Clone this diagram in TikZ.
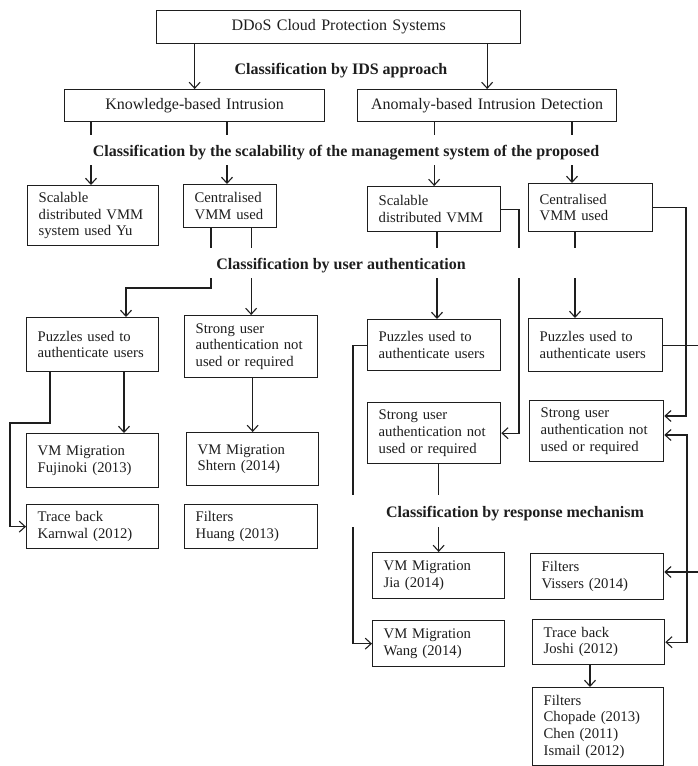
\documentclass[tikz,border=0pt]{standalone}
\usepackage{fontspec}
\setmainfont{Liberation Serif}
\usetikzlibrary{arrows.meta}
\definecolor{ink}{HTML}{1E1E1E}
\tikzset{
 box/.style={draw=ink, line width=1.3pt, rectangle, inner xsep=11pt, inner ysep=0pt, align=left, font=\fontsize{14.7}{16.6}\selectfont, text=ink},
 bigbox/.style={draw=ink, line width=1.3pt, rectangle, inner xsep=11pt, inner ysep=0pt, align=center, font=\fontsize{16}{18}\selectfont, text=ink},
 head/.style={font=\fontsize{16}{18}\selectfont\bfseries, text=ink, inner sep=0pt, anchor=base},
 con/.style={draw=ink, line width=1.1pt},
 arr/.style={con, -{Straight Barb[length=6pt,width=11pt]}},
 darr/.style={con, {Straight Barb[length=6pt,width=11pt]}-{Straight Barb[length=6pt,width=11pt]}},
}
\newcommand\mkbox[7][box]{%
  \pgfmathsetmacro\mybw{#5-#3}%
  \pgfmathsetmacro\mybh{#6-#4}%
  \pgfmathsetmacro\mytw{#5-#3-22}%
  \node[#1, minimum width=\mybw pt, minimum height=\mybh pt, text width=\mytw pt, anchor=north west] (#2) at (#3,#4) {#7};}
\begin{document}
\begin{tikzpicture}[x=1pt,y=-1pt]
\fill[white] (0,0) rectangle (697,766);
\useasboundingbox (0,0) rectangle (697,766);

% boxes
\mkbox[bigbox]{top}{156}{10}{520}{43}{DDoS Cloud Protection Systems}
\mkbox[bigbox]{know}{64}{89}{324}{121}{Knowledge-based Intrusion}
\mkbox[bigbox]{anom}{357}{89}{616}{121}{Anomaly-based Intrusion Detection}

\mkbox{yu}{27}{185}{158}{245}{Scalable\\distributed VMM\\system used Yu}
\mkbox{cenL}{183}{184}{276}{227}{Centralised\\VMM used}
\mkbox{scalR}{367}{186}{500}{231}{Scalable\\distributed VMM}
\mkbox{cenR}{528}{183}{652}{231}{Centralised\\VMM used}

\mkbox{puzL}{26}{317}{158}{371}{Puzzles used to\\authenticate users}
\mkbox{strL}{184}{315}{317}{377}{Strong user\\authentication not\\used or required}
\mkbox{puzM}{367}{319}{500}{370}{Puzzles used to\\authenticate users}
\mkbox{puzR}{528}{318}{662}{371}{Puzzles used to\\authenticate users}
\mkbox{strM}{367}{402}{500}{463}{Strong user\\authentication not\\used or required}
\mkbox{strR}{529}{400}{663}{461}{Strong user\\authentication not\\used or required}

\mkbox{vmF}{26}{433}{158}{487}{VM Migration\\Fujinoki (2013)}
\mkbox{vmS}{186}{432}{318}{485}{VM Migration\\Shtern (2014)}
\mkbox{trK}{26}{504}{158}{548}{Trace back\\Karnwal (2012)}
\mkbox{fiH}{184}{504}{317}{548}{Filters\\Huang (2013)}
\mkbox{vmJ}{372}{552}{504}{598}{VM Migration\\Jia (2014)}
\mkbox{fiV}{530}{553}{663}{599}{Filters\\Vissers (2014)}
\mkbox{vmW}{372}{620}{504}{666}{VM Migration\\Wang (2014)}
\mkbox{trJ}{532}{619}{664}{664}{Trace back\\Joshi (2012)}
\mkbox{fiC}{532}{687}{663}{765}{Filters\\Chopade (2013)\\Chen (2011)\\Ismail (2012)}

% headings
\node[head] (h1) at (341,74) {Classification by IDS approach};
\node[head] (h2) at (346,156) {Classification by the scalability of the management system of the proposed};
\node[head] (h3) at (341,269) {Classification by user authentication};
\node[head] (h4) at (515,517) {Classification by response mechanism};

% helper coordinates
\coordinate (g2a) at (0,135); \coordinate (g2b) at (0,165);
\coordinate (g3a) at (0,248); \coordinate (g3b) at (0,278);
\coordinate (g4a) at (0,495); \coordinate (g4b) at (0,527);
\coordinate (xyu) at (91,0);
\coordinate (xcl) at (227,0);
\coordinate (xcr) at (572,0);
\coordinate (xa) at (211,0);
\coordinate (j1) at (126,288);
\coordinate (xpm) at (437,0);
\coordinate (xsr) at (519,0);
\coordinate (xpr) at (575,0);
\coordinate (xr1) at (686,0);
\coordinate (xr2) at (698.5,0);
\coordinate (xr3) at (687,0);
\coordinate (xl) at (353,0);
\coordinate (xf) at (124,0);
\coordinate (xk) at (50,0);
\coordinate (k2) at (10,423);
\coordinate (xj) at (590,0);
\coordinate (ya) at (0,416);
\coordinate (yb) at (0,435);
\coordinate (yv) at (0,572);

% level 1
\draw[arr] (top.south -| know.north) -- (know.north);
\draw[arr] (top.south -| anom.north) -- (anom.north);

% level 2
\draw[con] (know.south -| xyu) -- (xyu |- g2a);
\draw[arr] (xyu |- g2b) -- (yu.north -| xyu);
\draw[con] (know.south -| xcl) -- (xcl |- g2a);
\draw[arr] (xcl |- g2b) -- (cenL.north -| xcl);
\draw[con] (anom.south -| scalR.north) -- (scalR.north |- g2a);
\draw[arr] (scalR.north |- g2b) -- (scalR.north);
\draw[con] (anom.south -| xcr) -- (xcr |- g2a);
\draw[arr] (xcr |- g2b) -- (cenR.north -| xcr);

% level 3
\draw[con] (cenL.south -| xa) -- (xa |- g3a);
\draw[arr] (xa |- g3b) |- (j1) -- (puzL.north -| j1);
\draw[con] (cenL.south -| strL.north) -- (strL.north |- g3a);
\draw[arr] (strL.north |- g3b) -- (strL.north);
\draw[con] (scalR.south -| xpm) -- (xpm |- g3a);
\draw[arr] (xpm |- g3b) -- (puzM.north -| xpm);
\draw[con] (scalR.east) -| (xsr |- g3a);
\draw[arr] (xsr |- g3b) |- (strM.east);
\draw[con] (cenR.south -| xpr) -- (xpr |- g3a);
\draw[arr] (xpr |- g3b) -- (puzR.north -| xpr);
\draw[arr] (cenR.east) -| (xr1 |- ya) -- (strR.east |- ya);

% level 4
\draw[arr] (puzL.south -| xf) -- (vmF.north -| xf);
\draw[arr] (puzL.south -| xk) |- (k2) |- (trK.west);
\draw[arr] (strL.south -| vmS.north) -- (vmS.north);
\draw[con] (puzM.west) -| (xl |- g4a);
\draw[arr] (xl |- g4b) |- (vmW.west);
\draw[con] (strM.south -| vmJ.north) -- (vmJ.north |- g4a);
\draw[arr] (vmJ.north |- g4b) -- (vmJ.north);
\draw[arr] (puzR.east) -| (xr2 |- yv) -- (fiV.east |- yv);
\draw[darr] (strR.east |- yb) -| (xr3 |- trJ.east) -- (trJ.east);
\draw[arr] (trJ.south -| xj) -- (fiC.north -| xj);
\end{tikzpicture}
\end{document}
